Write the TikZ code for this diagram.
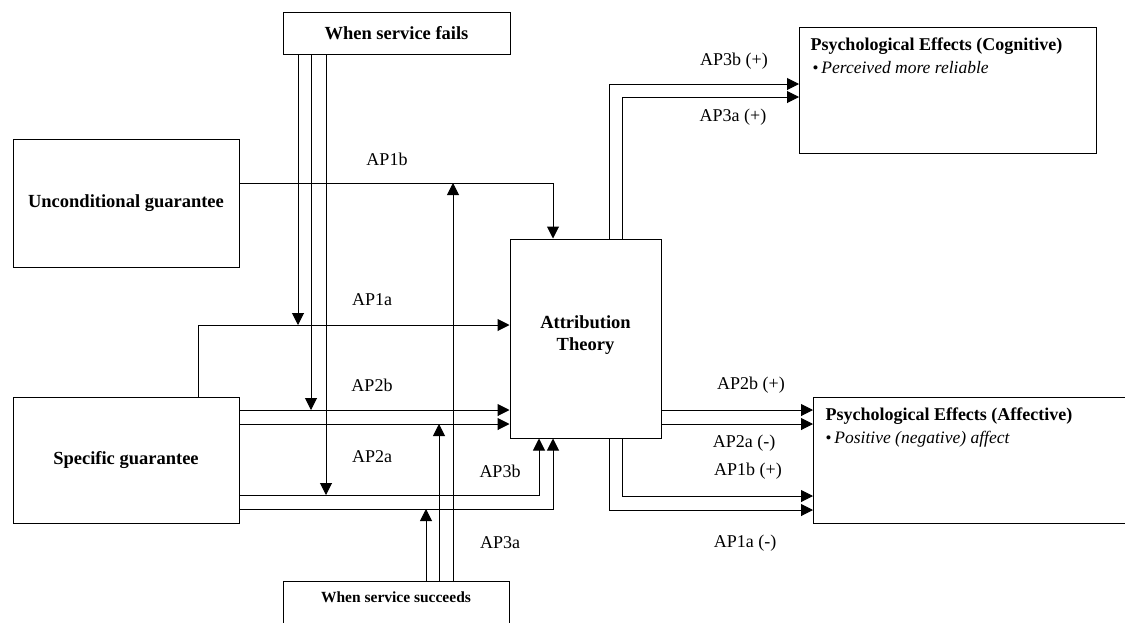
\documentclass[tikz,border=0pt]{standalone}
\usepackage{fontspec}
\setmainfont{Liberation Serif}
\usetikzlibrary{arrows.meta}
\begin{document}
\begin{tikzpicture}[x=1pt,y=-1pt,
  box/.style={draw=black, line width=1pt, rectangle, inner sep=0pt, font=\fontsize{18.5}{22}\selectfont\bfseries, align=center},
  effbox/.style={draw=black, line width=1pt, rectangle, anchor=north west, inner xsep=11pt, inner ysep=5pt, align=left},
  link/.style={draw=black, line width=1pt},
  arr/.style={link, -{Triangle[length=12pt,width=12pt]}},
  lab/.style={font=\fontsize{18}{20}\selectfont, inner sep=0pt}]
\useasboundingbox (0,0) rectangle (1125,622);
\fill[white] (0,0) rectangle (1125,622);
\clip (0,0) rectangle (1125,622);

% boxes
\node[box, minimum width=227pt, minimum height=42pt] (fails) at (396.5,33) {When service fails};
\node[box, minimum width=226pt, minimum height=128pt] (uncond) at (126,203) {Unconditional guarantee};
\node[box, minimum width=226pt, minimum height=126pt] (spec) at (126,460) {Specific guarantee};
\node[box, minimum width=151pt, minimum height=199pt, text depth=10pt] (attr) at (585.5,338.5) {Attribution\\Theory};
\node[box, anchor=north, minimum width=226pt, text height=17pt, text depth=45pt, inner ysep=4pt,
      font=\fontsize{15.5}{18}\selectfont\bfseries] (succ) at (396,581) {When service succeeds};
\node[effbox] (cog) at (799,27) {\parbox[t][116pt][t]{275pt}{\fontsize{18}{23}\selectfont
  \rule{0pt}{18pt}\textbf{Psychological Effects (Cognitive)}\\
  \hspace*{2pt}{\fontsize{17}{12}\selectfont\textbullet}\,{\fontsize{17.5}{23}\selectfont\itshape Perceived more reliable}}};
\node[effbox, inner xsep=12pt] (aff) at (813,397) {\parbox[t][116pt][t]{310pt}{\fontsize{18}{23}\selectfont
  \rule{0pt}{18pt}\textbf{Psychological Effects (Affective)}\\
  \hspace*{0pt}{\fontsize{17}{12}\selectfont\textbullet}\,{\fontsize{17.5}{23}\selectfont\itshape Positive (negative) affect}}};

% junction points on other connectors
\coordinate (f1) at (298,325);
\coordinate (f2) at (311,410);
\coordinate (f3) at (326,495);
\coordinate (s1) at (426,509);
\coordinate (s2) at (439,424);
\coordinate (s3) at (453,183);

% guarantees -> attribution theory
\draw[arr] (uncond.east |- 0,183) -| (attr.north -| 553,0);
\draw[arr] (spec.north -| 198,0) |- (attr.west |- 0,325);
\draw[arr] (spec.east |- 0,410) -- (attr.west |- 0,410);
\draw[arr] (spec.east |- 0,424) -- (attr.west |- 0,424);
\draw[arr] (spec.east |- 0,495) -| (attr.south -| 539,0);
\draw[arr] (spec.east |- 0,509) -| (attr.south -| 553,0);

% when service fails
\draw[arr] (fails.south -| f1) -- (f1);
\draw[arr] (fails.south -| f2) -- (f2);
\draw[arr] (fails.south -| f3) -- (f3);

% when service succeeds
\draw[arr] (succ.north -| s1) -- (s1);
\draw[arr] (succ.north -| s2) -- (s2);
\draw[arr] (succ.north -| s3) -- (s3);

% attribution theory -> effects
\draw[arr] (attr.north -| 609,0) |- (cog.west |- 0,84);
\draw[arr] (attr.north -| 622,0) |- (cog.west |- 0,97);
\draw[arr] (attr.east |- 0,410) -- (aff.west |- 0,410);
\draw[arr] (attr.east |- 0,424) -- (aff.west |- 0,424);
\draw[arr] (attr.south -| 622,0) |- (aff.west |- 0,496);
\draw[arr] (attr.south -| 609,0) |- (aff.west |- 0,510);

% labels
\node[lab] (l1) at (387,159) {AP1b};
\node[lab] (l2) at (372,300) {AP1a};
\node[lab] (l3) at (372,385) {AP2b};
\node[lab] (l4) at (372,457) {AP2a};
\node[lab] (l5) at (500,471) {AP3b};
\node[lab] (l6) at (500,543) {AP3a};
\node[lab] (l7) at (734,61) {AP3b (+)};
\node[lab] (l8) at (733,117) {AP3a (+)};
\node[lab] (l9) at (751,385) {AP2b (+)};
\node[lab] (l10) at (744,443) {AP2a (-)};
\node[lab] (l11) at (748,471) {AP1b (+)};
\node[lab] (l12) at (745,543) {AP1a (-)};
\end{tikzpicture}
\end{document}
